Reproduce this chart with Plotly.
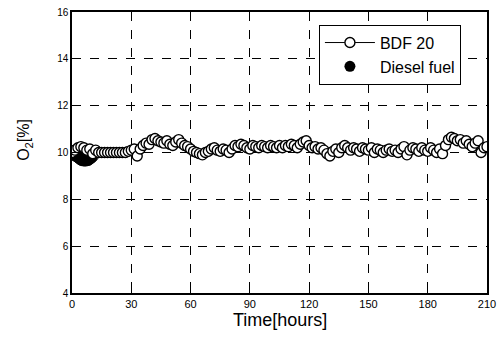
import plotly.graph_objects as go

hours = [0, 1.5, 3, 4.5, 6, 7.5, 9, 10.5, 12, 13.5, 15, 16.5, 18, 19.5, 21, 22.5, 24, 25.5, 27, 28.5,
         30, 31.5, 33, 34.5, 36, 37.5, 39, 40.5, 42, 43.5, 45, 46.5, 48, 49.5, 51, 52.5, 54, 55.5, 57, 58.5,
         60, 61.5, 63, 64.5, 66, 67.5, 69, 70.5, 72, 73.5, 75, 76.5, 78, 79.5, 81, 82.5, 84, 85.5, 87, 88.5,
         90, 91.5, 93, 94.5, 96, 97.5, 99, 100.5, 102, 103.5, 105, 106.5, 108, 109.5, 111, 112.5, 114, 115.5, 117, 118.5,
         120, 121.5, 123, 124.5, 126, 127.5, 129, 130.5, 132, 133.5, 135, 136.5, 138, 139.5, 141, 142.5, 144, 145.5, 147, 148.5,
         150, 151.5, 153, 154.5, 156, 157.5, 159, 160.5, 162, 163.5, 165, 166.5, 168, 169.5, 171, 172.5, 174, 175.5, 177, 178.5,
         180, 181.5, 183, 184.5, 186, 187.5, 189, 190.5, 192, 193.5, 195, 196.5, 198, 199.5, 201, 202.5, 204, 205.5, 207, 208.5,
         210]
bdf20 = [10.0, 10.1, 10.2, 10.25, 10.2, 10.1, 10.15, 9.95, 10.1, 10.0, 10.0, 10.0, 10.0, 10.0, 10.0, 10.0, 10.0, 10.0, 10.0, 10.05,
         10.1, 10.15, 9.85, 10.15, 10.3, 10.4, 10.35, 10.55, 10.6, 10.5, 10.45, 10.4, 10.5, 10.35, 10.3, 10.45, 10.55, 10.4, 10.3, 10.25,
         10.15, 10.05, 10.0, 9.95, 9.9, 10.0, 10.05, 10.15, 10.2, 10.1, 10.05, 10.15, 10.1, 10.0, 10.15, 10.3, 10.25, 10.35, 10.3, 10.2,
         10.15, 10.3, 10.25, 10.2, 10.3, 10.25, 10.2, 10.3, 10.25, 10.2, 10.3, 10.2, 10.3, 10.25, 10.35, 10.3, 10.2, 10.35, 10.45, 10.5,
         10.3, 10.2, 10.25, 10.15, 10.2, 10.1, 9.95, 9.85, 10.05, 10.15, 10.0, 10.2, 10.3, 10.2, 10.1, 10.2, 10.15, 10.05, 10.2, 10.15,
         10.1, 10.2, 10.0, 10.15, 10.1, 10.0, 10.1, 10.15, 10.05, 10.1, 10.0, 10.15, 10.25, 9.9, 10.1, 10.2, 10.15, 10.05, 10.2, 10.1,
         10.05, 10.2, 10.1, 10.0, 10.15, 9.95, 10.3, 10.55, 10.65, 10.6, 10.5, 10.55, 10.4, 10.5, 10.35, 10.25, 10.4, 10.5, 10.0, 10.2,
         10.25]

diesel_hours = [0, 1, 2, 3, 4, 5, 6, 7, 8, 9, 10]
diesel = [10.0, 9.95, 9.9, 9.85, 9.78, 9.72, 9.7, 9.7, 9.72, 9.78, 9.85]

x_ticks = [0, 30, 60, 90, 120, 150, 180, 210]
y_ticks = [4, 6, 8, 10, 12, 14, 16]

FONT = "Arial, Liberation Sans, Helvetica"

fig = go.Figure()
fig.add_trace(go.Scatter(
    x=diesel_hours, y=diesel, mode="markers", name="Diesel fuel",
    marker=dict(color="black", size=13, line=dict(color="black", width=1)),
    showlegend=False,
))
fig.add_trace(go.Scatter(
    x=hours, y=bdf20, mode="lines+markers", name="BDF 20",
    line=dict(color="black", width=1),
    marker=dict(symbol="circle", color="white", size=10, line=dict(color="black", width=1.4)),
))
fig.add_trace(go.Scatter(
    x=[None], y=[None], mode="markers", name="Diesel fuel",
    marker=dict(color="black", size=11),
))

axis_common = dict(
    showline=True, linecolor="black", linewidth=1.5, mirror=True,
    showgrid=True, gridcolor="black", griddash="dash", gridwidth=1,
    ticks="inside", ticklen=4, tickcolor="black", zeroline=False,
    automargin=False,
)
fig.update_xaxes(range=[0, 210], tickvals=x_ticks,
                 tickfont=dict(family=FONT, size=11, color="black"),
                 **axis_common)
fig.update_yaxes(range=[4, 16], tickvals=y_ticks,
                 tickfont=dict(family=FONT, size=10, color="black"),
                 **axis_common)
fig.update_layout(
    width=499, height=343,
    margin=dict(l=72, r=12, t=12, b=50),
    paper_bgcolor="white", plot_bgcolor="white",
    legend=dict(x=0.595, y=0.955, xanchor="left", yanchor="top",
                bgcolor="white", bordercolor="black", borderwidth=1,
                font=dict(family=FONT, size=16, color="black"),
                itemwidth=50, tracegroupgap=0),
)
fig.add_annotation(text="Time[hours]", x=0.5, y=0, xref="paper", yref="paper",
                   showarrow=False, yshift=-27,
                   font=dict(family=FONT, size=18, color="black"),
                   yanchor="middle", xanchor="center")
fig.add_annotation(text="O<sub>2</sub>[%]", x=0, y=0.545, xref="paper", yref="paper",
                   showarrow=False, textangle=-90, xshift=-47,
                   font=dict(family=FONT, size=16, color="black"),
                   xanchor="center", yanchor="middle")
fig.write_html("out.html", config={"displayModeBar": False},
               post_script="document.body.style.margin='0';document.body.style.overflow='hidden';")
